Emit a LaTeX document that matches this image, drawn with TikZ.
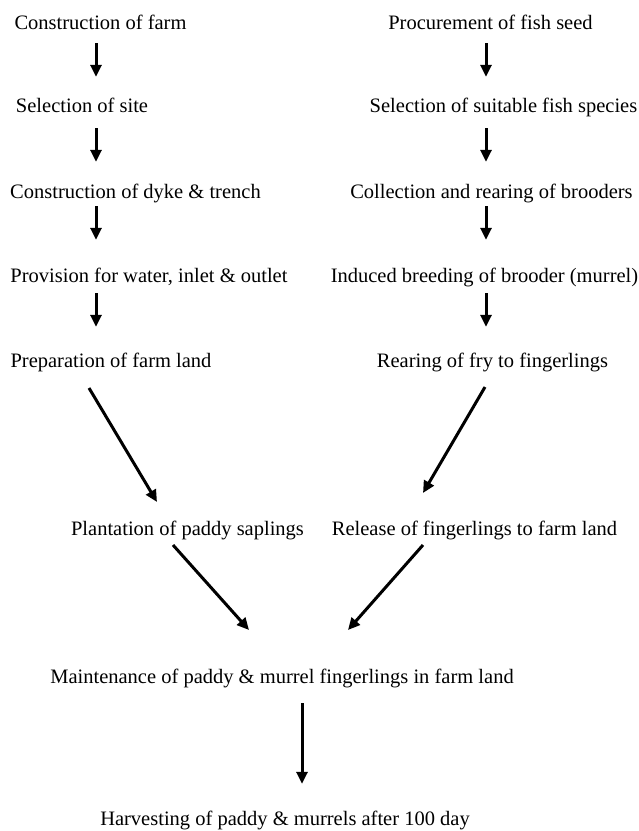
\documentclass[tikz,border=0pt]{standalone}
\usepackage{fontspec}
\setmainfont{Liberation Serif}
\usetikzlibrary{arrows.meta}
\begin{document}
\begin{tikzpicture}[x=1pt,y=-1pt,
  lbl/.style={anchor=base,inner sep=0pt,text height=14pt,text depth=4.5pt,
    font=\fontsize{20.5}{24}\selectfont},
  arr/.style={line width=3pt,-{Triangle[width=11pt,length=12pt]}}]
\useasboundingbox (0,0) rectangle (639,831);
% left column
\node[lbl] (L1) at (100.5,29) {Construction of farm};
\node[lbl] (L2) at (82,112) {Selection of site};
\node[lbl] (L3) at (135.5,198) {Construction of dyke \& trench};
\node[lbl] (L4) at (149,282) {Provision for water, inlet \& outlet};
\node[lbl] (L5) at (111,367) {Preparation of farm land};
% right column
\node[lbl] (R1) at (490.5,29) {Procurement of fish seed};
\node[lbl] (R2) at (503.5,112) {Selection of suitable fish species};
\node[lbl] (R3) at (491.5,198) {Collection and rearing of brooders};
\node[lbl] (R4) at (484.5,282) {Induced breeding of brooder (murrel)};
\node[lbl] (R5) at (492.5,367) {Rearing of fry to fingerlings};
% lower part
\node[lbl] (P) at (187.5,535) {Plantation of paddy saplings};
\node[lbl] (Q) at (474.5,535) {Release of fingerlings to farm land};
\node[lbl] (M) at (282,683) {Maintenance of paddy \& murrel fingerlings in farm land};
\node[lbl] (H) at (285,825) {Harvesting of paddy \& murrels after 100 day};
% column axes
\coordinate (cL) at (96,0);
\coordinate (cR) at (486,0);
% vertical arrows
\draw[arr,shorten <=9.5pt,shorten >=21pt] (L1.south -| cL) -- (L2.north -| cL);
\draw[arr,shorten <=11.5pt,shorten >=22pt] (L2.south -| cL) -- (L3.north -| cL);
\draw[arr,shorten <=3.5pt,shorten >=28pt] (L3.south -| cL) -- (L4.north -| cL);
\draw[arr,shorten <=6.5pt,shorten >=26pt] (L4.south -| cL) -- (L5.north -| cL);
\draw[arr,shorten <=9.5pt,shorten >=21pt] (R1.south -| cR) -- (R2.north -| cR);
\draw[arr,shorten <=11.5pt,shorten >=22pt] (R2.south -| cR) -- (R3.north -| cR);
\draw[arr,shorten <=3.5pt,shorten >=28pt] (R3.south -| cR) -- (R4.north -| cR);
\draw[arr,shorten <=6.5pt,shorten >=26pt] (R4.south -| cR) -- (R5.north -| cR);
% diagonal arrow ends
\coordinate (L5o) at (89,388);
\coordinate (Pi) at (157,502);
\coordinate (R5o) at (485,387);
\coordinate (Qi) at (423,493);
\coordinate (Po) at (173,545);
\coordinate (Mi1) at (249,630);
\coordinate (Qo) at (423,545);
\coordinate (Mi2) at (348,630);
\draw[arr] (L5o) -- (Pi);
\draw[arr] (R5o) -- (Qi);
\draw[arr] (Po) -- (Mi1);
\draw[arr] (Qo) -- (Mi2);
% final arrow
\coordinate (cM) at (302,0);
\draw[arr,shorten <=15.5pt,shorten >=27pt] (M.south -| cM) -- (H.north -| cM);
\end{tikzpicture}
\end{document}
